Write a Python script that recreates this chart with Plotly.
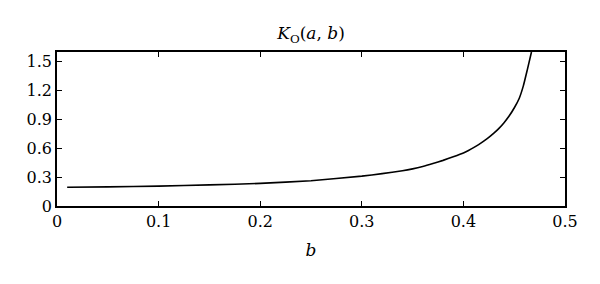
import plotly.graph_objects as go

b_values = [0.01, 0.05, 0.1, 0.15, 0.2, 0.25, 0.3, 0.32, 0.34, 0.35, 0.36, 0.37, 0.38, 0.39, 0.4,
            0.405, 0.41, 0.415, 0.42, 0.425, 0.43, 0.435, 0.44, 0.445, 0.45, 0.455, 0.459, 0.463, 0.467]
k_values = [0.195, 0.199, 0.207, 0.219, 0.235, 0.262, 0.31, 0.336, 0.366, 0.386, 0.411, 0.441, 0.474, 0.511, 0.551,
            0.577, 0.606, 0.638, 0.674, 0.713, 0.757, 0.807, 0.866, 0.935, 1.018, 1.12, 1.248, 1.42, 1.6]

x_ticks = [0, 0.1, 0.2, 0.3, 0.4, 0.5]
x_tick_labels = ["0", "0.1", "0.2", "0.3", "0.4", "0.5"]
y_ticks = [0, 0.3, 0.6, 0.9, 1.2, 1.5]
y_tick_labels = ["0", "0.3", "0.6", "0.9", "1.2", "1.5"]

FONT = "DejaVu Serif"

fig = go.Figure()
fig.add_trace(go.Scatter(
    x=b_values, y=k_values, mode="lines",
    line=dict(color="black", width=1.6, shape="spline", smoothing=0.4),
    showlegend=False, hoverinfo="skip",
))

axis_common = dict(
    showline=True, linecolor="black", linewidth=1.5, mirror="ticks",
    ticks="inside", ticklen=5, tickwidth=1.2, tickcolor="black",
    showgrid=False, zeroline=False,
    tickfont=dict(family=FONT, size=16, color="black"),
)

fig.update_layout(
    width=600, height=284,
    margin=dict(l=57, r=35, t=52, b=78),
    paper_bgcolor="white", plot_bgcolor="white",
    title=dict(
        text="<i>K</i><sub>O</sub>(<i>a</i>, <i>b</i>)",
        x=(57 + 565) / 2 / 600, xanchor="center",
        y=1 - 33 / 284, yanchor="middle",
        font=dict(family=FONT, size=17, color="black"),
    ),
    xaxis=dict(
        range=[0, 0.5], tickvals=x_ticks, ticktext=x_tick_labels,
        title=dict(text="<i>b</i>", font=dict(family=FONT, size=17, color="black"), standoff=14),
        **axis_common,
    ),
    yaxis=dict(
        range=[0, 1.6], tickvals=y_ticks, ticktext=y_tick_labels,
        **axis_common,
    ),
)

fig.write_html("out.html")
